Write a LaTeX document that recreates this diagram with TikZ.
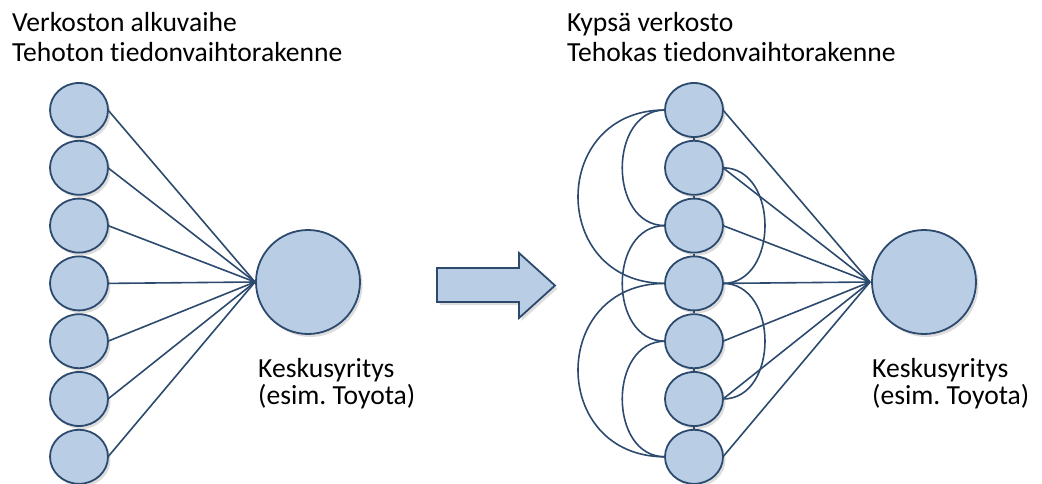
\documentclass[tikz,border=0pt]{standalone}
\usepackage{fontspec}
\setmainfont{Carlito}[Ligatures=NoCommon]
\usetikzlibrary{shadows,shapes.geometric}
\definecolor{nfill}{HTML}{B9CDE5}
\definecolor{nline}{HTML}{2C4A6E}
\frenchspacing
\begin{document}
\begin{tikzpicture}[x=1pt,y=-1pt,
  shad/.style={drop shadow={opacity=0.22,shadow xshift=2.5pt,shadow yshift=-3pt,fill=black!60}},
  small/.style={ellipse,draw=nline,fill=nfill,line width=1.8pt,minimum width=58pt,minimum height=54pt,inner sep=0pt,shad},
  big/.style={circle,draw=nline,fill=nfill,line width=1.8pt,minimum size=104pt,inner sep=0pt,shad},
  conn/.style={draw=nline,line width=1.6pt},
  txt/.style={anchor=base west,inner sep=0pt,font=\fontsize{27.6}{30}\selectfont,text=black,align=left}]
\useasboundingbox (0,0) rectangle (1042,484);
% connectors first (behind nodes)
\coordinate (LW) at (255,282);
\coordinate (RW) at (870,282);
\foreach \i in {1,...,7}{
  \pgfmathsetmacro{\yy}{110+57.8*(\i-1)}
  \coordinate (le\i) at (108,\yy);
  \coordinate (re\i) at (723,\yy);
  \coordinate (rw\i) at (665,\yy);
  \draw[conn] (le\i) -- (LW);
  \draw[conn] (re\i) -- (RW);
}
% right column arcs (left side)
\draw[conn] (rw1) .. controls +(-116,0) and +(-116,0) .. (rw4);
\draw[conn] (rw1) .. controls +(-57,0) and +(-57,0) .. (rw3);
\draw[conn] (rw3) .. controls +(-57,0) and +(-57,0) .. (rw5);
\draw[conn] (rw4) .. controls +(-116,0) and +(-116,0) .. (rw7);
\draw[conn] (rw5) .. controls +(-57,0) and +(-57,0) .. (rw7);
% right side arcs
\draw[conn] (re2) .. controls +(56,0) and +(56,0) .. (re4);
\draw[conn] (re4) .. controls +(56,0) and +(56,0) .. (re6);
% nodes
\foreach \i in {1,...,7}{
  \pgfmathsetmacro{\yy}{110+57.8*(\i-1)}
  \node[small] (L\i) at (79,\yy) {};
  \node[small] (R\i) at (694,\yy) {};
}
\foreach \i/\j in {1/2,2/3,3/4,4/5,5/6,6/7}{
  \draw[conn] (R\i.south) -- (R\j.north);
}
\node[big] (LC) at (308,282) {};
\node[big] (RC) at (924,282) {};
% arrow
\filldraw[draw=nline,fill=nfill,line width=1.8pt,shad]
  (437,268) -- (519,268) -- (519,253) -- (555,285.5) -- (519,318) -- (519,302) -- (437,302) -- cycle;
% texts
\node[txt] (t1) at (12,32) {Verkoston alkuvaihe};
\node[txt] (t2) at (12,62) {Tehoton tiedonvaihtorakenne};
\node[txt] (t3) at (567,32) {Kypsä verkosto};
\node[txt] (t4) at (567,62) {Tehokas tiedonvaihtorakenne};
\node[txt] (k1) at (258,377) {Keskusyritys};
\node[txt] (k2) at (258,404) {(esim. Toyota)};
\node[txt] (k3) at (872,377) {Keskusyritys};
\node[txt] (k4) at (872,404) {(esim. Toyota)};
\end{tikzpicture}
\end{document}
